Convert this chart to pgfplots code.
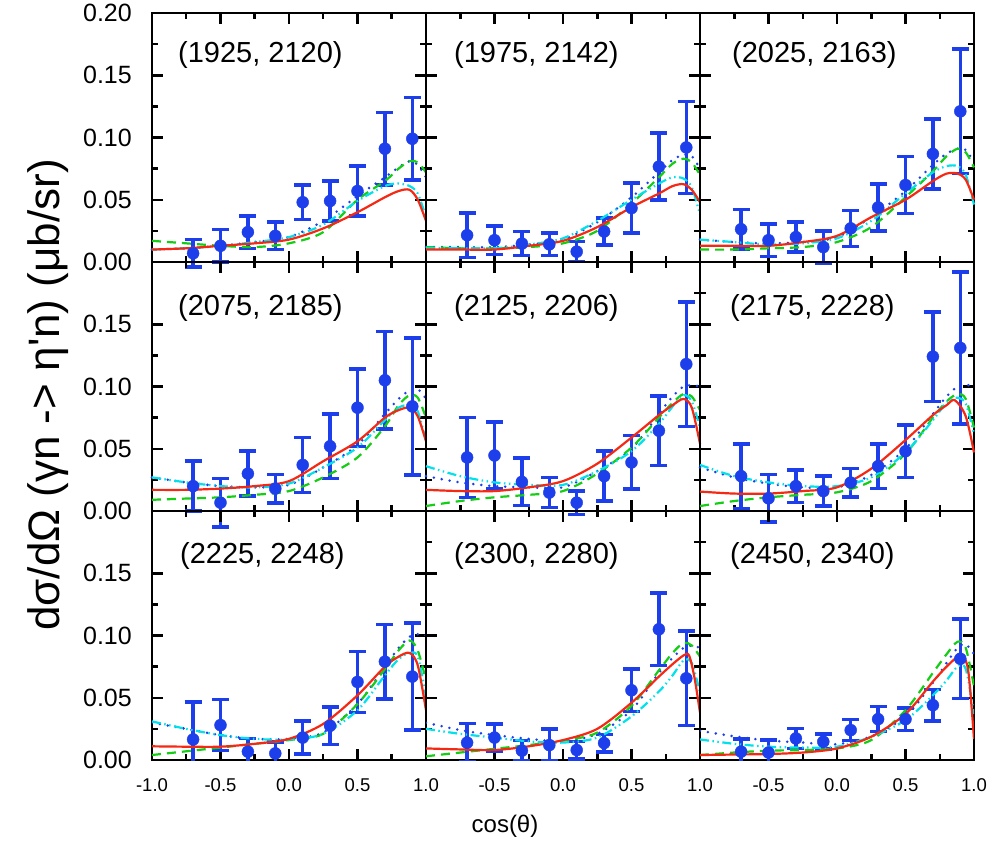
\documentclass[border=0pt]{standalone}
\usepackage{pgfplots}
\pgfplotsset{compat=1.18}
\usepgfplotslibrary{groupplots}
\usetikzlibrary{calc}
\usepackage{fontspec}
\setmainfont{Liberation Sans}
\newfontfamily\rawfont{Liberation Sans}
\definecolor{dblue}{RGB}{28,62,235}
\definecolor{cred}{RGB}{245,40,20}
\definecolor{cgreen}{RGB}{20,205,20}
\definecolor{ccyan}{RGB}{0,225,235}
\pgfplotsset{
  dat/.style={only marks, mark=*, mark size=6pt, color=dblue,
    error bars/.cd, y dir=both, y explicit,
    error bar style={line width=3.5pt, solid},
    error mark options={rotate=90, line width=3.5pt, mark size=8.5pt, solid}},
  cR/.style={cred, line width=2.2pt, smooth, no markers},
  cG/.style={cgreen, line width=2.2pt, smooth, no markers, dash pattern=on 9pt off 6pt},
  cC/.style={ccyan, line width=2.2pt, smooth, no markers, dash pattern=on 9pt off 3.5pt on 1.5pt off 3.5pt on 1.5pt off 3.5pt},
  cB/.style={dblue, line width=2.8pt, smooth, no markers, line cap=round, dash pattern=on 0pt off 8pt},
}
\tikzset{plab/.style={anchor=west, font=\fontsize{29}{30}\selectfont, inner sep=0pt}}
\begin{document}
\begin{tikzpicture}
\begin{groupplot}[
  group style={group size=3 by 3, horizontal sep=0pt, vertical sep=0pt},
  scale only axis, width=274pt, height=249pt,
  xmin=-1, xmax=1, ymin=0, ymax=0.2,
  xtick={-1,-0.5,0,0.5,1}, ytick={0,0.05,0.1,0.15,0.2},
  minor x tick num=1, minor y tick num=1,
  tick align=inside,
  major tick length=11pt, minor tick length=6pt,
  every tick/.style={line width=2.5pt, black},
  axis line style={line width=2.5pt},
  clip=false,
  /pgf/number format/assume math mode=true,
  xticklabel style={font=\fontsize{18.5}{20}\selectfont, inner sep=0pt, anchor=north, yshift=-18pt,
    /pgf/number format/.cd, fixed, fixed zerofill, precision=1},
  yticklabel style={font=\fontsize{25}{26}\selectfont, inner sep=0pt, anchor=east, xshift=-20pt,
    /pgf/number format/.cd, fixed, fixed zerofill, precision=2},
  xticklabels={}, yticklabels={},
]
% ---------- Panel 1
\nextgroupplot[yticklabel={\pgfmathprintnumber{\tick}}]
\addplot[dat] coordinates {(-0.7,0.007)+-(0,0.011) (-0.5,0.013)+-(0,0.013) (-0.3,0.024)+-(0,0.013) (-0.1,0.021)+-(0,0.011) (0.1,0.048)+-(0,0.014) (0.3,0.049)+-(0,0.016) (0.5,0.057)+-(0,0.020) (0.7,0.091)+-(0,0.029) (0.9,0.099)+-(0,0.033)};
\addplot[cB] coordinates {(-1,0.010) (-0.75,0.011) (-0.5,0.013) (-0.25,0.016) (0,0.020) (0.25,0.033) (0.5,0.053) (0.7,0.068) (0.8,0.076) (0.88,0.081) (0.94,0.078) (1,0.068)};
\addplot[cG] coordinates {(-1,0.017) (-0.75,0.015) (-0.5,0.013) (-0.25,0.012) (0,0.015) (0.25,0.024) (0.5,0.050) (0.7,0.065) (0.8,0.075) (0.88,0.081) (0.94,0.080) (1,0.072)};
\addplot[cC] coordinates {(-1,0.010) (-0.75,0.011) (-0.5,0.013) (-0.25,0.016) (0,0.020) (0.25,0.030) (0.5,0.049) (0.7,0.061) (0.8,0.063) (0.88,0.061) (0.94,0.055) (1,0.036)};
\addplot[cR] coordinates {(-1,0.010) (-0.75,0.011) (-0.5,0.013) (-0.25,0.015) (0,0.018) (0.25,0.027) (0.5,0.040) (0.7,0.052) (0.8,0.057) (0.88,0.058) (0.94,0.050) (1,0.033)};
\node[plab] at ([xshift=26pt,yshift=-42pt]rel axis cs:0,1) {(1925, 2120)};
% ---------- Panel 2
\nextgroupplot
\addplot[dat] coordinates {(-0.7,0.0215)+-(0,0.018) (-0.5,0.0175)+-(0,0.0115) (-0.3,0.0148)+-(0,0.0097) (-0.1,0.0142)+-(0,0.009) (0.1,0.0083)+-(0,0.008) (0.3,0.0245)+-(0,0.011) (0.5,0.0433)+-(0,0.020) (0.7,0.0766)+-(0,0.027) (0.9,0.092)+-(0,0.037)};
\addplot[cB] coordinates {(-1,0.012) (-0.75,0.012) (-0.5,0.012) (-0.25,0.014) (0,0.018) (0.25,0.032) (0.5,0.052) (0.7,0.072) (0.8,0.082) (0.88,0.086) (0.94,0.085) (1,0.075)};
\addplot[cG] coordinates {(-1,0.012) (-0.75,0.011) (-0.5,0.011) (-0.25,0.012) (0,0.015) (0.25,0.025) (0.5,0.047) (0.7,0.068) (0.8,0.079) (0.88,0.083) (0.94,0.080) (1,0.070)};
\addplot[cC] coordinates {(-1,0.011) (-0.75,0.011) (-0.5,0.011) (-0.25,0.014) (0,0.019) (0.25,0.033) (0.5,0.050) (0.7,0.063) (0.8,0.068) (0.88,0.067) (0.94,0.060) (1,0.038)};
\addplot[cR] coordinates {(-1,0.010) (-0.75,0.010) (-0.5,0.010) (-0.25,0.013) (0,0.017) (0.25,0.028) (0.5,0.044) (0.7,0.055) (0.8,0.061) (0.88,0.0625) (0.94,0.058) (1,0.048)};
\node[plab] at ([xshift=28pt,yshift=-42pt]rel axis cs:0,1) {(1975, 2142)};
% ---------- Panel 3
\nextgroupplot
\addplot[dat] coordinates {(-0.7,0.0263)+-(0,0.016) (-0.5,0.0175)+-(0,0.013) (-0.3,0.020)+-(0,0.012) (-0.1,0.012)+-(0,0.013) (0.1,0.027)+-(0,0.0145) (0.3,0.0438)+-(0,0.019) (0.5,0.0618)+-(0,0.023) (0.7,0.0868)+-(0,0.028) (0.9,0.121)+-(0,0.050)};
\addplot[cB] coordinates {(-1,0.018) (-0.75,0.016) (-0.5,0.015) (-0.25,0.016) (0,0.020) (0.25,0.036) (0.5,0.057) (0.7,0.078) (0.8,0.087) (0.88,0.091) (0.94,0.090) (1,0.080)};
\addplot[cG] coordinates {(-1,0.010) (-0.75,0.010) (-0.5,0.011) (-0.25,0.012) (0,0.016) (0.25,0.028) (0.5,0.052) (0.7,0.073) (0.8,0.085) (0.88,0.091) (0.94,0.088) (1,0.076)};
\addplot[cC] coordinates {(-1,0.018) (-0.75,0.016) (-0.5,0.014) (-0.25,0.015) (0,0.019) (0.25,0.033) (0.5,0.055) (0.7,0.072) (0.8,0.077) (0.88,0.077) (0.94,0.070) (1,0.046)};
\addplot[cR] coordinates {(-1,0.013) (-0.75,0.013) (-0.5,0.013) (-0.25,0.016) (0,0.021) (0.25,0.036) (0.5,0.050) (0.7,0.065) (0.8,0.071) (0.88,0.071) (0.94,0.066) (1,0.050)};
\node[plab] at ([xshift=32pt,yshift=-42pt]rel axis cs:0,1) {(2025, 2163)};
% ---------- Panel 4
\nextgroupplot[ytick={0,0.05,0.1,0.15}, yticklabel={\pgfmathprintnumber{\tick}}]
\addplot[dat] coordinates {(-0.7,0.020)+-(0,0.020) (-0.5,0.0067)+-(0,0.0196) (-0.3,0.030)+-(0,0.018) (-0.1,0.018)+-(0,0.0115) (0.1,0.037)+-(0,0.022) (0.3,0.052)+-(0,0.026) (0.5,0.083)+-(0,0.031) (0.7,0.105)+-(0,0.039) (0.9,0.084)+-(0,0.055)};
\addplot[cB] coordinates {(-1,0.027) (-0.75,0.023) (-0.5,0.020) (-0.25,0.019) (0,0.021) (0.25,0.035) (0.5,0.053) (0.7,0.078) (0.8,0.090) (0.88,0.097) (0.94,0.098) (1,0.090)};
\addplot[cG] coordinates {(-1,0.009) (-0.75,0.010) (-0.5,0.011) (-0.25,0.013) (0,0.016) (0.25,0.027) (0.5,0.043) (0.7,0.068) (0.8,0.085) (0.88,0.093) (0.94,0.091) (1,0.075)};
\addplot[cC] coordinates {(-1,0.027) (-0.75,0.023) (-0.5,0.020) (-0.25,0.019) (0,0.022) (0.25,0.035) (0.5,0.051) (0.7,0.073) (0.8,0.083) (0.88,0.085) (0.94,0.080) (1,0.056)};
\addplot[cR] coordinates {(-1,0.017) (-0.75,0.017) (-0.5,0.018) (-0.25,0.020) (0,0.024) (0.25,0.040) (0.5,0.056) (0.7,0.075) (0.8,0.081) (0.88,0.083) (0.94,0.076) (1,0.056)};
\node[plab] at ([xshift=26pt,yshift=-46pt]rel axis cs:0,1) {(2075, 2185)};
% ---------- Panel 5
\nextgroupplot
\addplot[dat] coordinates {(-0.7,0.043)+-(0,0.032) (-0.5,0.0446)+-(0,0.027) (-0.3,0.0234)+-(0,0.019) (-0.1,0.0148)+-(0,0.012) (0.1,0.0067)+-(0,0.0095) (0.3,0.028)+-(0,0.020) (0.5,0.039)+-(0,0.0215) (0.7,0.0645)+-(0,0.028) (0.9,0.118)+-(0,0.050)};
\addplot[cB] coordinates {(-1,0.028) (-0.75,0.023) (-0.5,0.020) (-0.25,0.019) (0,0.019) (0.25,0.032) (0.5,0.050) (0.7,0.078) (0.8,0.092) (0.88,0.100) (0.94,0.101) (1,0.100)};
\addplot[cG] coordinates {(-1,0.004) (-0.75,0.008) (-0.5,0.011) (-0.25,0.013) (0,0.016) (0.25,0.030) (0.5,0.051) (0.7,0.075) (0.8,0.087) (0.88,0.094) (0.94,0.092) (1,0.081)};
\addplot[cC] coordinates {(-1,0.036) (-0.75,0.028) (-0.5,0.023) (-0.25,0.021) (0,0.021) (0.25,0.032) (0.5,0.048) (0.7,0.070) (0.8,0.084) (0.88,0.093) (0.94,0.088) (1,0.067)};
\addplot[cR] coordinates {(-1,0.017) (-0.75,0.016) (-0.5,0.016) (-0.25,0.019) (0,0.024) (0.25,0.038) (0.5,0.059) (0.7,0.077) (0.8,0.085) (0.88,0.090) (0.94,0.083) (1,0.054)};
\node[plab] at ([xshift=28pt,yshift=-46pt]rel axis cs:0,1) {(2125, 2206)};
% ---------- Panel 6
\nextgroupplot
\addplot[dat] coordinates {(-0.7,0.028)+-(0,0.026) (-0.5,0.0102)+-(0,0.019) (-0.3,0.020)+-(0,0.013) (-0.1,0.016)+-(0,0.012) (0.1,0.0228)+-(0,0.0115) (0.3,0.036)+-(0,0.018) (0.5,0.048)+-(0,0.021) (0.7,0.124)+-(0,0.036) (0.9,0.131)+-(0,0.061)};
\addplot[cB] coordinates {(-1,0.035) (-0.75,0.027) (-0.5,0.022) (-0.25,0.019) (0,0.019) (0.25,0.029) (0.5,0.050) (0.7,0.078) (0.8,0.092) (0.88,0.100) (0.94,0.102) (1,0.098)};
\addplot[cG] coordinates {(-1,0.004) (-0.75,0.008) (-0.5,0.011) (-0.25,0.013) (0,0.015) (0.25,0.024) (0.5,0.046) (0.7,0.075) (0.8,0.088) (0.88,0.094) (0.94,0.090) (1,0.067)};
\addplot[cC] coordinates {(-1,0.037) (-0.75,0.028) (-0.5,0.023) (-0.25,0.020) (0,0.020) (0.25,0.027) (0.5,0.047) (0.7,0.073) (0.8,0.087) (0.88,0.091) (0.94,0.086) (1,0.062)};
\addplot[cR] coordinates {(-1,0.0156) (-0.75,0.014) (-0.5,0.014) (-0.25,0.016) (0,0.019) (0.25,0.034) (0.5,0.057) (0.7,0.077) (0.8,0.085) (0.86,0.089) (0.94,0.076) (1,0.047)};
\node[plab] at ([xshift=30pt,yshift=-46pt]rel axis cs:0,1) {(2175, 2228)};
% ---------- Panel 7
\nextgroupplot[ytick={0,0.05,0.1,0.15}, yticklabel={\pgfmathprintnumber{\tick}}, xticklabel={\pgfmathprintnumber{\tick}}, clip=true]
\addplot[dat] coordinates {(-0.7,0.0165)+-(0,0.030) (-0.5,0.028)+-(0,0.0205) (-0.3,0.0067)+-(0,0.0107) (-0.1,0.0053)+-(0,0.009) (0.1,0.018)+-(0,0.0133) (0.3,0.0275)+-(0,0.015) (0.5,0.0627)+-(0,0.0245) (0.7,0.079)+-(0,0.030) (0.9,0.067)+-(0,0.043)};
\addplot[cB] coordinates {(-1,0.030) (-0.75,0.025) (-0.5,0.020) (-0.25,0.017) (0,0.017) (0.25,0.022) (0.5,0.045) (0.7,0.075) (0.8,0.090) (0.88,0.099) (0.94,0.101) (1,0.100)};
\addplot[cG] coordinates {(-1,0.004) (-0.75,0.007) (-0.5,0.010) (-0.25,0.013) (0,0.016) (0.25,0.021) (0.5,0.045) (0.7,0.073) (0.8,0.088) (0.88,0.096) (0.94,0.088) (1,0.064)};
\addplot[cC] coordinates {(-1,0.031) (-0.75,0.025) (-0.5,0.020) (-0.25,0.017) (0,0.0165) (0.25,0.021) (0.5,0.040) (0.7,0.068) (0.8,0.081) (0.88,0.086) (0.94,0.083) (1,0.051)};
\addplot[cR] coordinates {(-1,0.011) (-0.75,0.0107) (-0.5,0.0107) (-0.25,0.013) (0,0.017) (0.25,0.029) (0.5,0.052) (0.7,0.075) (0.8,0.083) (0.88,0.086) (0.94,0.076) (1,0.040)};
\node[plab] at ([xshift=28pt,yshift=-45pt]rel axis cs:0,1) {(2225, 2248)};
% ---------- Panel 8
\nextgroupplot[xtick={-0.5,0,0.5,1}, xticklabel={\pgfmathprintnumber{\tick}}, clip=true]
\addplot[dat] coordinates {(-0.7,0.0139)+-(0,0.0155) (-0.5,0.018)+-(0,0.011) (-0.3,0.0075)+-(0,0.008) (-0.1,0.012)+-(0,0.013) (0.1,0.008)+-(0,0.007) (0.3,0.0136)+-(0,0.007) (0.5,0.056)+-(0,0.017) (0.7,0.105)+-(0,0.029) (0.9,0.0656)+-(0,0.038)};
\addplot[cB] coordinates {(-1,0.030) (-0.75,0.024) (-0.5,0.020) (-0.25,0.017) (0,0.015) (0.25,0.021) (0.5,0.040) (0.7,0.070) (0.8,0.082) (0.88,0.090) (0.94,0.092) (1,0.090)};
\addplot[cG] coordinates {(-1,0.003) (-0.75,0.006) (-0.5,0.009) (-0.25,0.012) (0,0.0155) (0.25,0.022) (0.5,0.0435) (0.7,0.072) (0.8,0.086) (0.88,0.094) (0.94,0.092) (1,0.083)};
\addplot[cC] coordinates {(-1,0.025) (-0.75,0.021) (-0.5,0.018) (-0.25,0.015) (0,0.014) (0.25,0.018) (0.5,0.035) (0.7,0.055) (0.8,0.068) (0.88,0.080) (0.94,0.078) (1,0.054)};
\addplot[cR] coordinates {(-1,0.0093) (-0.75,0.0085) (-0.5,0.008) (-0.25,0.011) (0,0.016) (0.25,0.025) (0.5,0.046) (0.7,0.067) (0.8,0.077) (0.88,0.084) (0.92,0.084) (0.96,0.066) (1,0.038)};
\node[plab] at ([xshift=28pt,yshift=-45pt]rel axis cs:0,1) {(2300, 2280)};
% ---------- Panel 9
\nextgroupplot[xtick={-0.5,0,0.5,1}, xticklabel={\pgfmathprintnumber{\tick}}, clip=true]
\addplot[dat] coordinates {(-0.7,0.0067)+-(0,0.010) (-0.5,0.006)+-(0,0.010) (-0.3,0.0173)+-(0,0.008) (-0.1,0.0147)+-(0,0.006) (0.1,0.024)+-(0,0.0085) (0.3,0.0328)+-(0,0.010) (0.5,0.0328)+-(0,0.009) (0.7,0.044)+-(0,0.0125) (0.9,0.0813)+-(0,0.032)};
\addplot[cB] coordinates {(-1,0.0235) (-0.75,0.019) (-0.5,0.0157) (-0.25,0.014) (0,0.0127) (0.25,0.019) (0.5,0.035) (0.7,0.062) (0.8,0.078) (0.88,0.090) (0.94,0.093) (1,0.085)};
\addplot[cG] coordinates {(-1,0.004) (-0.75,0.006) (-0.5,0.0075) (-0.25,0.008) (0,0.0093) (0.25,0.016) (0.5,0.040) (0.7,0.070) (0.8,0.085) (0.88,0.095) (0.94,0.090) (1,0.059)};
\addplot[cC] coordinates {(-1,0.0165) (-0.75,0.013) (-0.5,0.0107) (-0.25,0.010) (0,0.0107) (0.25,0.0187) (0.5,0.032) (0.7,0.052) (0.8,0.064) (0.88,0.075) (0.94,0.073) (1,0.037)};
\addplot[cR] coordinates {(-1,0.004) (-0.75,0.0044) (-0.5,0.0048) (-0.25,0.006) (0,0.0093) (0.25,0.0187) (0.5,0.037) (0.7,0.063) (0.8,0.075) (0.88,0.083) (0.92,0.084) (0.96,0.070) (1,0.017)};
\node[plab] at ([xshift=30pt,yshift=-45pt]rel axis cs:0,1) {(2450, 2340)};
\end{groupplot}
\node[rotate=90, font=\fontsize{44}{46}\selectfont, inner sep=0pt] at ($(group c1r1.north west)+(-104pt,-382pt)$) {dσ/dΩ (γn -> η{\rawfont\char"27}n) (μb/sr)};
\node[font=\fontsize{24}{26}\selectfont, inner sep=0pt] at ($(group c1r1.north west)+(353pt,-813pt)$) {cos(θ)};
\pgfresetboundingbox
\path[use as bounding box] ($(group c1r1.north west)+(-152pt,13pt)$) rectangle ++(994pt,-844pt);
\end{tikzpicture}
\end{document}
